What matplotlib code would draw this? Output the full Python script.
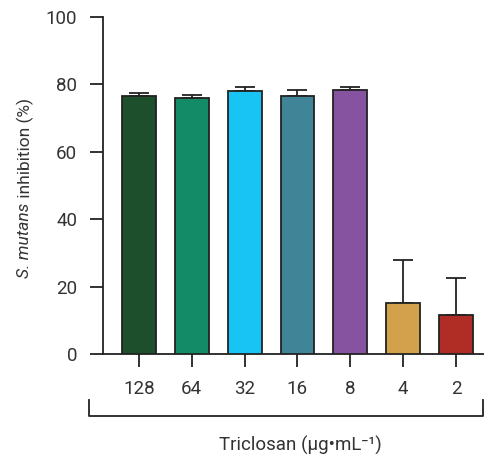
import matplotlib
matplotlib.use("Agg")
import matplotlib.pyplot as plt
import numpy as np

# data
concentrations = ["128", "64", "32", "16", "8", "4", "2"]
inhibition = [76.5, 76.1, 77.9, 76.7, 78.2, 15.2, 11.5]
inhibition_sd = [0.9, 0.9, 1.2, 1.7, 0.9, 12.8, 11.1]
colors = ["#1e4f2d", "#128b66", "#17c4f3", "#3f8597", "#8653a0", "#d3a14c", "#b02d25"]

plt.rcParams['font.family'] = ['Roboto', 'DejaVu Sans']

text_color = "#333333"
line_color = "#222222"

fig = plt.figure(figsize=(4.85, 4.58), dpi=100)
ax = fig.add_axes([103/485, 1 - 354/458, 1 - 103/485, (354 - 17)/458])

x = np.arange(len(concentrations))
ax.bar(x, inhibition, width=0.64, color=colors, edgecolor=line_color, linewidth=1.3, zorder=3)
ax.errorbar(x, inhibition, yerr=[np.zeros(len(x)), inhibition_sd], fmt="none",
            ecolor=line_color, elinewidth=1.3, capsize=7, capthick=1.3, zorder=2)

ax.set_xlim(-0.68, 6.55)
ax.set_ylim(0, 100)
ax.set_yticks([0, 20, 40, 60, 80, 100])
ax.set_xticks(x)
ax.set_xticklabels(concentrations)

for s in ["top", "right"]:
    ax.spines[s].set_visible(False)
for s in ["left", "bottom"]:
    ax.spines[s].set_linewidth(1.3)
    ax.spines[s].set_color(line_color)

ax.tick_params(axis="both", length=9.5, width=1.3, color=line_color,
               labelsize=13.5, labelcolor=text_color)
ax.tick_params(axis="x", pad=9)
ax.tick_params(axis="y", pad=9)

# y label: italic species name + regular rest, built from two texts
fig.canvas.draw()
renderer = fig.canvas.get_renderer()
lab_x = 25/485
lab_fs = 12.5
t1 = fig.text(lab_x, 0, "S. mutans", rotation=90, style="italic", fontsize=lab_fs,
              color=text_color, ha="center", va="bottom")
t2 = fig.text(lab_x, 0, " inhibition (%)", rotation=90, fontsize=lab_fs,
              color=text_color, ha="center", va="bottom")
h1 = t1.get_window_extent(renderer).height / fig.bbox.height
h2 = t2.get_window_extent(renderer).height / fig.bbox.height
y_center = 1 - 188/458
y0 = y_center - (h1 + h2) / 2
t1.set_y(y0)
t2.set_y(y0 + h1)

# bracket under the tick labels
tr = ax.get_xaxis_transform()
bx0, bx1 = -0.95, 6.52
ylow, yhigh = -0.184, -0.137
ax.plot([bx0, bx0, bx1, bx1], [yhigh, ylow, ylow, yhigh], transform=tr,
        color=line_color, linewidth=1.3, clip_on=False)

fig.text(300/485, 1 - 445/458, "Triclosan (µg•mL⁻¹)", ha="center", va="center",
         fontsize=13.5, color=text_color)

plt.savefig("out.png", dpi=100)
